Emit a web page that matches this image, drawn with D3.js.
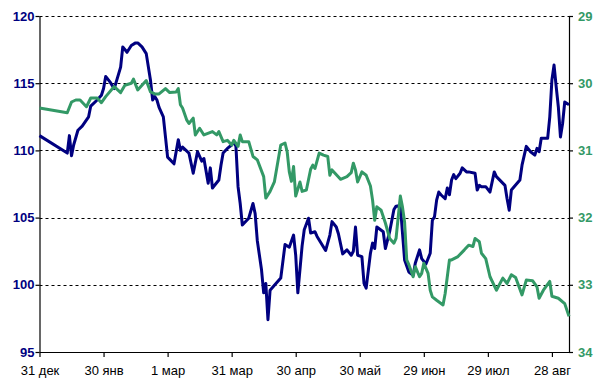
<!DOCTYPE html>
<html>
<head>
<meta charset="utf-8">
<script src="https://cdn.jsdelivr.net/npm/d3@7"></script>
<style>
  body { margin: 0; background: #fff; }
  svg text { font-family: "Liberation Sans", Arial, sans-serif; }
</style>
</head>
<body>
<div id="chart"></div>
<script>
// data: day offsets from 31 dec, values
const blueDays = [0, 13, 14, 15, 16, 18, 20, 23, 24, 27, 29, 30, 31, 33, 35, 38, 39, 41, 43, 45, 46, 48, 50, 52, 53, 54, 55, 56, 58, 59, 60, 63, 65, 66, 67, 70, 72, 74, 76, 77, 79, 80, 81, 84, 85, 86, 88, 90, 91, 92, 93, 94, 95, 98, 100, 101, 102, 104, 105, 106, 107, 108, 113, 115, 117, 119, 120, 121, 123, 124, 126, 127, 129, 130, 134, 136, 137, 139, 140, 142, 144, 146, 147, 148, 149, 151, 152, 153, 155, 156, 157, 158, 161, 162, 164, 166, 167, 169, 171, 173, 175, 176, 178, 179, 181, 183, 184, 185, 186, 187, 188, 190, 191, 192, 193, 194, 195, 197, 198, 200, 201, 204, 205, 206, 207, 209, 211, 213, 214, 218, 219, 220, 221, 225, 226, 228, 230, 232, 233, 234, 235, 238, 239, 240, 241, 242, 243, 244, 245, 246, 248]
const blueValues = [111.1, 109.8, 111.1, 109.6, 110.4, 111.5, 111.8, 112.5, 113.3, 113.75, 114.1, 114.6, 115.5, 115.1, 114.6, 116.2, 117.7, 117.3, 117.8, 118.0, 118.0, 117.7, 117.2, 115.2, 113.75, 114.0, 113.75, 113.2, 112.5, 111.0, 109.5, 109.0, 110.8, 110.0, 110.25, 109.8, 108.3, 109.9, 109.2, 109.4, 107.55, 108.7, 107.2, 107.8, 108.9, 109.8, 110.15, 110.4, 110.65, 110.3, 107.3, 106.05, 104.45, 104.95, 106.05, 105.3, 103.3, 101.1, 99.4, 100.1, 97.4, 99.6, 100.5, 103.0, 102.8, 103.7, 102.2, 99.4, 102.9, 104.1, 104.95, 103.85, 103.95, 103.6, 102.55, 103.7, 104.7, 104.3, 103.8, 102.3, 102.6, 102.2, 102.5, 104.3, 102.2, 102.1, 100.1, 99.75, 102.35, 103.1, 102.7, 104.3, 103.95, 102.7, 103.95, 105.6, 105.85, 105.9, 101.85, 100.95, 100.7, 101.6, 102.6, 101.95, 101.55, 102.35, 104.8, 105.05, 106.3, 106.9, 106.7, 106.4, 107.2, 106.7, 107.8, 108.2, 107.9, 108.3, 108.7, 108.4, 108.4, 108.3, 107.05, 107.4, 107.3, 107.3, 106.9, 108.4, 108.05, 107.4, 106.4, 105.55, 107.05, 107.8, 108.9, 110.3, 109.9, 109.65, 110.15, 109.9, 110.9, 110.9, 112.5, 115.25, 116.35, 114.75, 113.25, 111.0, 112.0, 113.6, 113.4]

const greenDays = [0, 13, 15, 17, 19, 22, 24, 27, 29, 31, 35, 38, 40, 43, 44, 46, 50, 52, 54, 56, 59, 61, 64, 65, 66, 67, 69, 70, 72, 73, 75, 77, 81, 83, 84, 86, 88, 90, 91, 93, 94, 95, 98, 100, 102, 105, 106, 108, 110, 113, 115, 116, 117, 118, 119, 120, 122, 123, 125, 127, 128, 129, 131, 133, 135, 136, 137, 141, 144, 146, 147, 148, 149, 151, 153, 155, 156, 157, 158, 160, 162, 164, 166, 167, 169, 170, 171, 172, 173, 175, 176, 178, 179, 180, 182, 183, 184, 186, 189, 190, 192, 193, 196, 199, 201, 203, 204, 206, 207, 209, 211, 214, 217, 219, 221, 223, 226, 228, 231, 233, 234, 236, 239, 240, 243, 246, 248]
const greenValues = [30.37, 30.44, 30.28, 30.25, 30.25, 30.35, 30.22, 30.22, 30.29, 30.2, 30.05, 30.14, 30.03, 30.0, 29.94, 30.1, 29.96, 30.13, 30.16, 30.16, 30.08, 30.14, 30.13, 30.08, 30.32, 30.37, 30.55, 30.6, 30.52, 30.77, 30.67, 30.77, 30.72, 30.77, 30.72, 30.87, 30.85, 30.92, 30.85, 30.94, 30.77, 30.87, 30.87, 31.09, 31.14, 31.39, 31.71, 31.61, 31.47, 30.92, 30.89, 31.02, 31.32, 31.46, 31.24, 31.68, 31.47, 31.61, 31.59, 31.28, 31.22, 31.27, 31.04, 31.07, 31.09, 31.37, 31.29, 31.43, 31.39, 31.33, 31.19, 31.29, 31.47, 31.32, 31.37, 31.53, 31.74, 32.04, 31.84, 31.89, 32.08, 32.31, 32.38, 32.31, 31.68, 31.84, 32.07, 32.63, 32.7, 32.88, 32.73, 32.88, 32.83, 32.68, 32.83, 33.08, 33.18, 33.23, 33.3, 33.13, 32.63, 32.63, 32.58, 32.48, 32.41, 32.43, 32.31, 32.36, 32.53, 32.61, 32.88, 33.08, 32.9, 32.98, 32.85, 32.89, 33.15, 32.93, 32.94, 33.03, 33.2, 33.08, 32.95, 33.17, 33.2, 33.28, 33.47]

const xTickDates = ["2006-12-31", "2007-01-30", "2007-03-01", "2007-03-31", "2007-04-30", "2007-05-30", "2007-06-29", "2007-07-29", "2007-08-28"]
const monthNames = ["янв", "фев", "мар", "апр", "май", "июн", "июл", "авг", "сен", "окт", "ноя", "дек"]
const leftTicks = [95, 100, 105, 110, 115, 120]
const rightTicks = [29, 30, 31, 32, 33, 34]

const width = 603
const height = 388
const margin = { top: 16, right: 34, bottom: 36, left: 39.5 }

const navy = "#000080",
    green = "#339966"

const start = new Date(Date.UTC(2006, 11, 31))
const toDate = (d) => d3.utcDay.offset(start, d)

const svg = d3.select("#chart")
    .append("svg")
    .attr("width", width)
    .attr("height", height)

const xScale = d3.scaleUtc()
    .domain([start, toDate(248)])
    .range([margin.left, width - margin.right])

const yLeft = d3.scaleLinear()
    .domain([95, 120])
    .range([height - margin.bottom, margin.top])

const yRight = d3.scaleLinear()
    .domain([29, 34])
    .range([margin.top, height - margin.bottom])

// grid lines
svg.append("g")
    .selectAll("line")
    .data(leftTicks.slice(1))
    .enter()
    .append("line")
    .attr("x1", margin.left)
    .attr("x2", width - margin.right)
    .attr("y1", d => Math.round(yLeft(d)) + 0.5)
    .attr("y2", d => Math.round(yLeft(d)) + 0.5)
    .attr("stroke", "#000")
    .attr("stroke-dasharray", "3,3")

const xAxis = d3.axisBottom(xScale)
    .tickValues(xTickDates.map(s => new Date(s + "T00:00:00Z")))
    .tickFormat(d => `${d.getUTCDate()} ${monthNames[d.getUTCMonth()]}`)
    .tickSize(5)
    .tickSizeOuter(0)

const leftAxis = d3.axisLeft(yLeft)
    .tickValues(leftTicks)
    .tickFormat(d3.format("d"))
    .tickSize(4)
    .tickSizeOuter(0)

const rightAxis = d3.axisRight(yRight)
    .tickValues(rightTicks)
    .tickFormat(d3.format("d"))
    .tickSize(4)
    .tickSizeOuter(0)

const gx = svg.append("g")
    .attr("transform", `translate(0,${height - margin.bottom})`)
    .call(xAxis)
gx.selectAll("text").attr("fill", "#000").attr("font-size", "13px").attr("dy", "1.15em")

const gl = svg.append("g")
    .attr("transform", `translate(${margin.left},0)`)
    .call(leftAxis)
gl.selectAll("text").attr("fill", navy).attr("font-size", "13px").attr("font-weight", "bold").attr("x", -5)

const gr = svg.append("g")
    .attr("transform", `translate(${width - margin.right},0)`)
    .call(rightAxis)
gr.selectAll("text").attr("fill", green).attr("font-size", "13px").attr("font-weight", "bold").attr("x", 9)

svg.selectAll(".domain, .tick line").attr("stroke", "#000").attr("stroke-width", 1.2)

const blueLine = d3.line()
    .x((d, i) => xScale(toDate(blueDays[i])))
    .y(d => yLeft(d))

const greenLine = d3.line()
    .x((d, i) => xScale(toDate(greenDays[i])))
    .y(d => yRight(d))

svg.append("path")
    .datum(blueValues)
    .attr("d", blueLine)
    .attr("fill", "none")
    .attr("stroke", navy)
    .attr("stroke-width", 3)
    .attr("stroke-linejoin", "round")

svg.append("path")
    .datum(greenValues)
    .attr("d", greenLine)
    .attr("fill", "none")
    .attr("stroke", green)
    .attr("stroke-width", 3)
    .attr("stroke-linejoin", "round")
</script>
</body>
</html>
